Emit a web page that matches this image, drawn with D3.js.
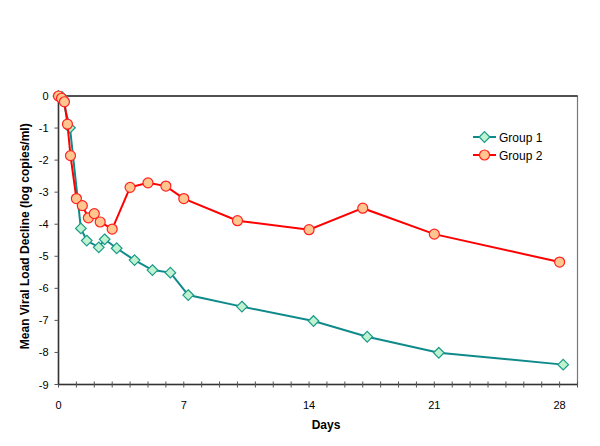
<!DOCTYPE html>
<html lang="en">
<head>
    <meta charset="UTF-8">
    <title>Mean Viral Load Decline</title>
    <script src="https://d3js.org/d3.v7.min.js"></script>
    <style>
        body { margin: 0; background: #fff; }
        svg { display: block; font-family: "Liberation Sans", Arial, sans-serif; }
    </style>
</head>
<body>
    <script>
        // Data
        const daysG1 = [0, 0.2, 0.64, 1.25, 1.58, 2.25, 2.58, 3.25, 4.25, 5.25, 6.25, 7.25, 10.25, 14.25, 17.25, 21.25, 28.2];
        const group1 = [0, -0.03, -0.99, -4.13, -4.51, -4.72, -4.47, -4.75, -5.12, -5.43, -5.51, -6.21, -6.57, -7.02, -7.51, -8.01, -8.38];
        const daysG2 = [0, 0.17, 0.33, 0.5, 0.67, 1, 1.33, 1.67, 2, 2.33, 3, 4, 5, 6, 7, 10, 14, 17, 21, 28];
        const group2 = [0, -0.07, -0.18, -0.88, -1.86, -3.2, -3.42, -3.8, -3.67, -3.93, -4.15, -2.85, -2.71, -2.81, -3.2, -3.89, -4.17, -3.5, -4.31, -5.18];
        const xTickLabels = [0, 7, 14, 21, 28];
        const yTickLabels = [0, -1, -2, -3, -4, -5, -6, -7, -8, -9];
        const seriesNames = ["Group 1", "Group 2"];

        const width = 600, height = 446;
        const svg = d3.select("body").append("svg")
            .attr("width", width)
            .attr("height", height);

        const x = d3.scaleLinear().domain([0, 29]).range([58.5, 577.5]);
        const y = d3.scaleLinear().domain([-9, 0]).range([384.5, 96]);

        // plot frame
        svg.append("rect")
            .attr("x", x(0)).attr("y", y(0))
            .attr("width", x(29) - x(0)).attr("height", y(-9) - y(0))
            .attr("fill", "none").attr("stroke", "#777").attr("stroke-width", 1.2);
        // top zero line
        svg.append("line").attr("x1", x(0)).attr("x2", x(29)).attr("y1", y(0)).attr("y2", y(0))
            .attr("stroke", "#333").attr("stroke-width", 1.5);

        // x axis
        const xAxis = svg.append("g").attr("transform", `translate(0,${y(-9)})`);
        xAxis.append("line").attr("x1", x(0)).attr("x2", x(29))
            .attr("stroke", "#333").attr("stroke-width", 1.5);
        xAxis.selectAll(".minor").data(d3.range(0, 30)).enter().append("line")
            .attr("x1", d => x(d)).attr("x2", d => x(d))
            .attr("y1", -3).attr("y2", 3)
            .attr("stroke", "#555").attr("stroke-width", 1);
        xAxis.selectAll("text").data(xTickLabels).enter().append("text")
            .attr("x", d => x(d)).attr("y", 24)
            .attr("text-anchor", "middle")
            .attr("font-size", 11).attr("fill", "#000")
            .text(d => d);

        // y axis
        const yAxis = svg.append("g").attr("transform", `translate(${x(0)},0)`);
        yAxis.append("line").attr("y1", y(0)).attr("y2", y(-9))
            .attr("stroke", "#333").attr("stroke-width", 1.5);
        yAxis.selectAll(".tick").data(yTickLabels).enter().append("line")
            .attr("x1", -4).attr("x2", 0)
            .attr("y1", d => y(d)).attr("y2", d => y(d))
            .attr("stroke", "#555");
        yAxis.selectAll("text").data(yTickLabels).enter().append("text")
            .attr("x", -10).attr("y", d => y(d) + 4)
            .attr("text-anchor", "end")
            .attr("font-size", 11).attr("fill", "#000")
            .text(d => d);

        // axis titles
        svg.append("text")
            .attr("transform", `translate(29,${(y(0) + y(-9)) / 2 - 4}) rotate(-90)`)
            .attr("text-anchor", "middle")
            .attr("font-size", 12).attr("font-weight", "bold")
            .text("Mean Viral Load Decline (log copies/ml)");
        svg.append("text")
            .attr("x", 326).attr("y", 429)
            .attr("text-anchor", "middle")
            .attr("font-size", 12).attr("font-weight", "bold")
            .text("Days");

        const line = d3.line().x(d => x(d[0])).y(d => y(d[1]));
        const diamond = d3.symbol().type(d3.symbolDiamond2).size(72);

        // Group 1
        const g1 = d3.zip(daysG1, group1);
        svg.append("path").datum(g1)
            .attr("d", line).attr("fill", "none")
            .attr("stroke", "#0f8a8a").attr("stroke-width", 2);
        svg.append("g").selectAll("path").data(g1).enter().append("path")
            .attr("d", diamond)
            .attr("transform", d => `translate(${x(d[0])},${y(d[1])})`)
            .attr("fill", "#bff2cf").attr("stroke", "#1a9a8a").attr("stroke-width", 1.2);

        // Group 2
        const g2 = d3.zip(daysG2, group2);
        svg.append("path").datum(g2)
            .attr("d", line).attr("fill", "none")
            .attr("stroke", "#ff0000").attr("stroke-width", 2);
        svg.append("g").selectAll("circle").data(g2).enter().append("circle")
            .attr("cx", d => x(d[0])).attr("cy", d => y(d[1]))
            .attr("r", 5)
            .attr("fill", "#ffc78f").attr("stroke", "#ff2020").attr("stroke-width", 1.2);

        // legend
        const legend = svg.append("g");
        seriesNames.forEach((name, i) => {
            const ly = 137 + i * 18;
            const row = legend.append("g");
            row.append("line").attr("x1", 473).attr("x2", 496).attr("y1", ly).attr("y2", ly)
                .attr("stroke", i === 0 ? "#0f8a8a" : "#ff0000").attr("stroke-width", 2);
            if (i === 0) {
                row.append("path").attr("d", diamond)
                    .attr("transform", `translate(484.5,${ly})`)
                    .attr("fill", "#bff2cf").attr("stroke", "#1a9a8a").attr("stroke-width", 1.2);
            } else {
                row.append("circle").attr("cx", 484.5).attr("cy", ly).attr("r", 5)
                    .attr("fill", "#ffc78f").attr("stroke", "#ff2020").attr("stroke-width", 1.2);
            }
            row.append("text").attr("x", 499).attr("y", ly + 4.5)
                .attr("font-size", 12).text(name);
        });
    </script>
</body>
</html>
